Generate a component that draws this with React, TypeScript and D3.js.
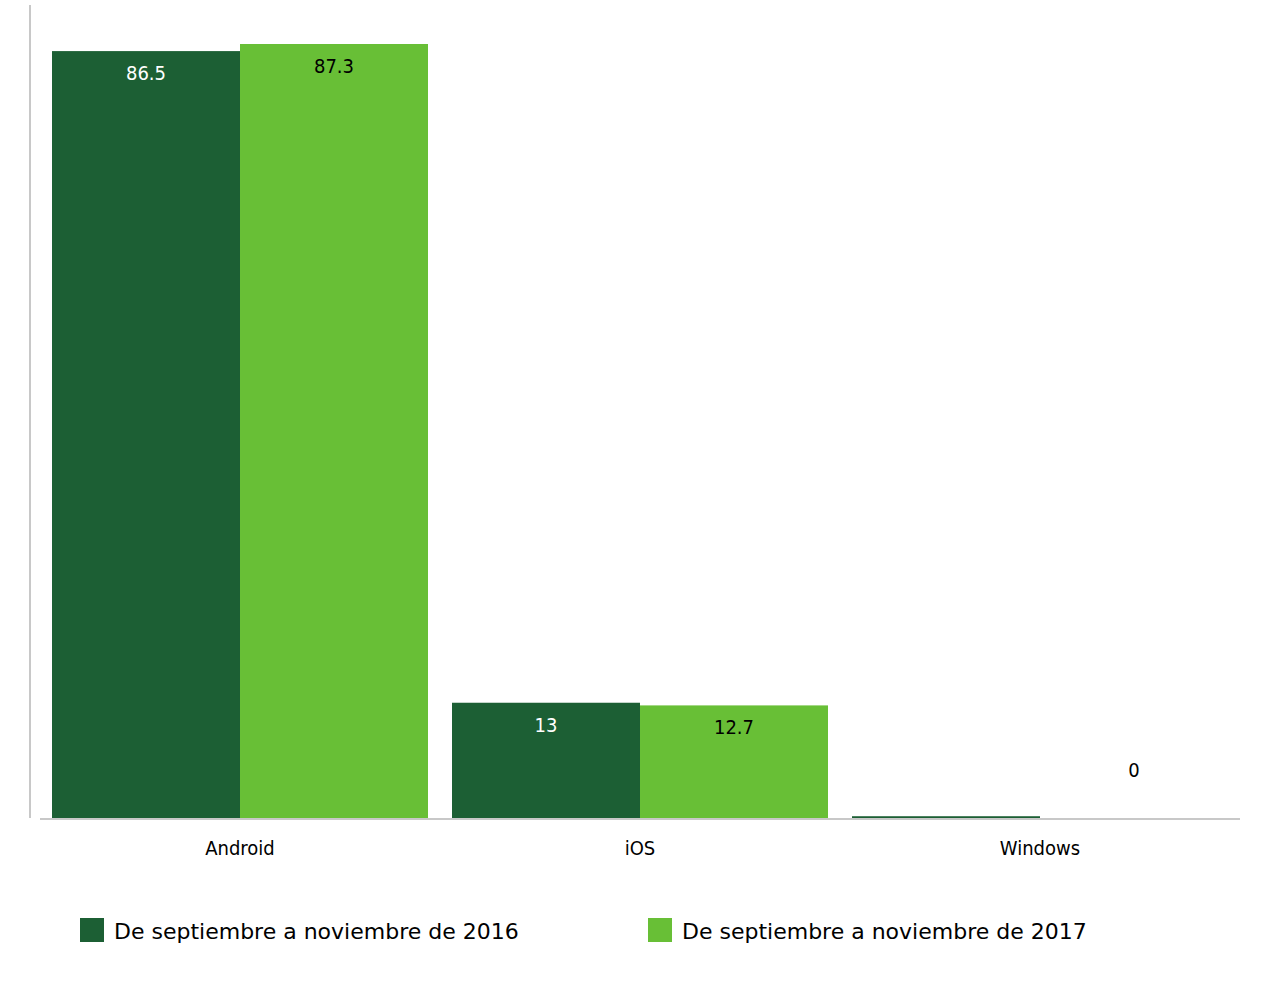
import React from "react";
import * as d3 from "d3";

const categories = ["Android", "iOS", "Windows"];
const seriesNames = ["De septiembre a noviembre de 2016", "De septiembre a noviembre de 2017"];
const values2016 = [86.5, 13, 0.2];
const values2017 = [87.3, 12.7, 0];
const labels2016 = ["86.5", "13", ""];
const labels2017 = ["87.3", "12.7", "0"];
const colors = ["#1c5f34", "#68bf36"];
const labelColors = ["#ffffff", "#000000"];

const W = 1282;
const H = 984;

export default function App() {
  const x0 = d3.scaleBand<string>().domain(categories).range([40, 1240]).paddingInner(0.06).paddingOuter(0.03);
  const x1 = d3.scaleBand<number>().domain([0, 1]).range([0, x0.bandwidth()]);
  const y = d3.scaleLinear().domain([0, 87.3]).range([818, 44]);
  const series = [values2016, values2017];
  const labels = [labels2016, labels2017];
  const numFont = "'DejaVu Sans', sans-serif";

  return (
    <svg width={W} height={H} style={{ position: "absolute", left: 0, top: 0, background: "#fff" }}>
      {series.map((vals, si) =>
        vals.map((v, ci) => {
          const bx = (x0(categories[ci]) as number) + (x1(si) as number);
          const top = y(v);
          return (
            <rect key={`b${si}-${ci}`} x={bx} y={top} width={x1.bandwidth()} height={y(0) - top} fill={colors[si]} />
          );
        })
      )}
      {series.map((vals, si) =>
        vals.map((v, ci) => {
          if (!labels[si][ci]) return null;
          const bx = (x0(categories[ci]) as number) + (x1(si) as number) + x1.bandwidth() / 2;
          const top = y(v);
          const small = y(0) - top < 40;
          return (
            <text
              key={`l${si}-${ci}`}
              x={bx}
              y={small ? y(0) - 41 : top + 29}
              textAnchor="middle"
              fontFamily={numFont}
              fontStretch="condensed"
              fontSize={20}
              fill={small ? "#000" : labelColors[si]}
            >
              {labels[si][ci]}
            </text>
          );
        })
      )}
      <line x1={30} x2={30} y1={5} y2={818} stroke="#c8c8c8" strokeWidth={2} />
      <line x1={40} x2={1240} y1={819} y2={819} stroke="#c8c8c8" strokeWidth={2} />
      {categories.map((c) => (
        <text
          key={c}
          x={(x0(c) as number) + x0.bandwidth() / 2}
          y={855}
          textAnchor="middle"
          fontFamily={numFont}
          fontStretch="condensed"
          fontSize={20}
          fill="#000"
        >
          {c}
        </text>
      ))}
      {seriesNames.map((n, i) => (
        <g key={n} transform={`translate(${80 + i * 568},918)`}>
          <rect x={0} y={0} width={24} height={24} fill={colors[i]} />
          <text x={34} y={21} fontFamily="'DejaVu Sans', Verdana, sans-serif" fontSize={22} fill="#000">
            {n}
          </text>
        </g>
      ))}
    </svg>
  );
}
